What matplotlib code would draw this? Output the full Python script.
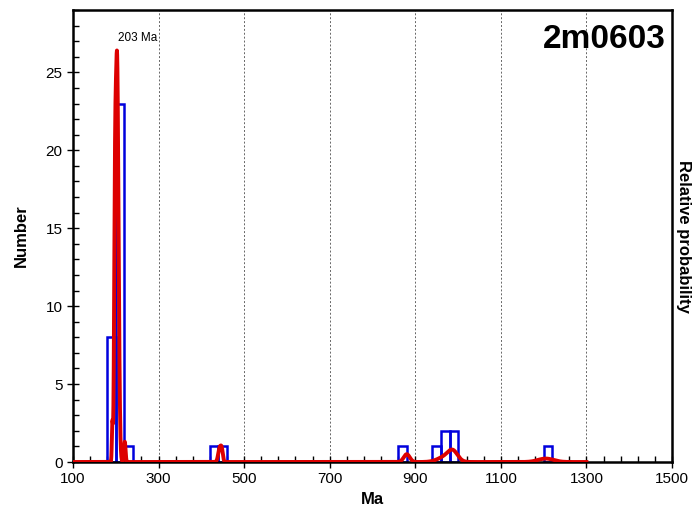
import numpy as np
import matplotlib.pyplot as plt
from matplotlib.ticker import FixedLocator

plt.rcParams['font.family'] = ['Liberation Sans', 'DejaVu Sans']

# histogram (20 Ma bins)
bin_left = np.array([180, 200, 220, 420, 440, 860, 940, 960, 980, 1200])
counts = np.array([8, 23, 1, 1, 1, 1, 1, 2, 2, 1])
bin_width = 20

# probability curve components: age, height (count scale), sigma
peak_age = np.array([192, 198, 203, 221, 443, 448, 880, 972, 988, 1205])
peak_height = np.array([2.4, 11.0, 25.8, 1.3, 0.9, 0.6, 0.5, 0.35, 0.55, 0.22])
peak_sigma = np.array([1.2, 2.0, 3.4, 1.8, 3.5, 2.5, 7.0, 18.0, 11.0, 18.0])

x = np.linspace(100, 1300, 6000)
y = np.zeros_like(x)
for a, h, s in zip(peak_age, peak_height, peak_sigma):
    y += h * np.exp(-0.5 * ((x - a) / s) ** 2)

fig = plt.figure(figsize=(6.93, 5.21), dpi=100)
ax = fig.add_axes([73 / 693, 1 - 462 / 521, 599 / 693, 452 / 521])

for xv in [300, 500, 700, 900, 1100, 1300]:
    ax.axvline(xv, color='#666666', ls=(0, (2, 2)), lw=0.7, zorder=0)

ax.bar(bin_left, counts, width=bin_width, align='edge', fill=False,
       edgecolor='#0000dd', linewidth=1.8, zorder=2)
ax.plot(x, y, color='#dd0000', lw=2.8, zorder=3)

ax.text(205, 26.8, '203 Ma', fontsize=8.5, ha='left', va='bottom')
ax.text(0.989, 0.97, '2m0603', transform=ax.transAxes, fontsize=24,
        fontweight='bold', ha='right', va='top')

ax.set_xlim(100, 1500)
ax.set_ylim(0, 29)
ax.xaxis.set_major_locator(FixedLocator(np.arange(100, 1501, 200)))
ax.xaxis.set_minor_locator(FixedLocator(np.arange(100, 1501, 40)))
ax.set_yticks(np.arange(0, 26, 5))
ax.yaxis.set_minor_locator(FixedLocator(np.arange(0, 30, 1)))
ax.tick_params(which='major', direction='inout', length=8, width=1, labelsize=11)
ax.tick_params(which='minor', direction='in', length=4, width=1)
for sp in ax.spines.values():
    sp.set_linewidth(1.8)

ax.set_xlabel('Ma', fontsize=12, fontweight='bold')
ax.set_ylabel('Number', fontsize=12, fontweight='bold', labelpad=12)

fig.text(683 / 693, 1 - 236 / 521, 'Relative probability', fontsize=12,
         fontweight='bold', rotation=-90, ha='center', va='center')

fig.savefig('out.png', dpi=100)
